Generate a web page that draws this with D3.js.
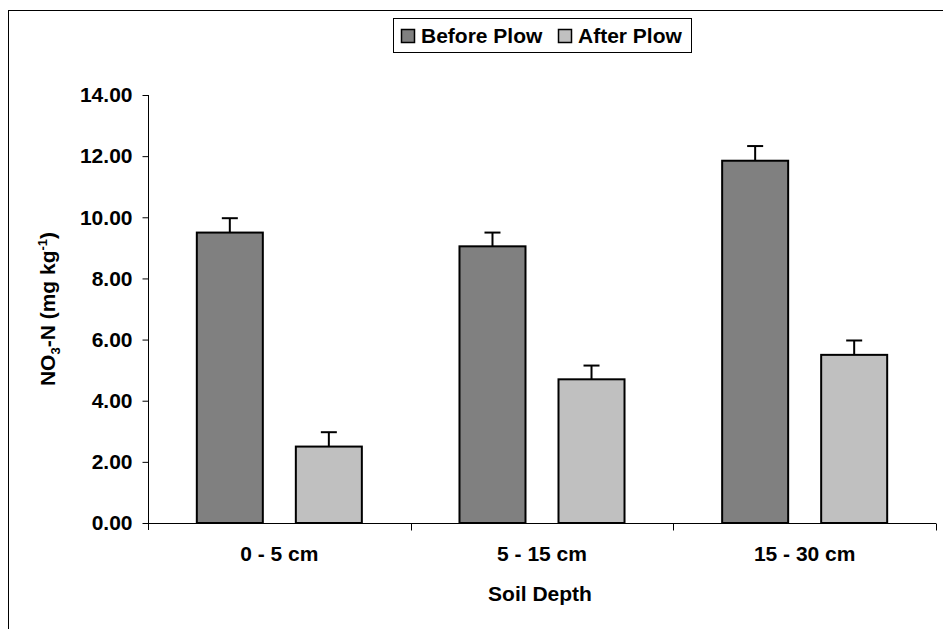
<!DOCTYPE html>
<html>
<head>
<meta charset="utf-8">
<script src="https://cdn.jsdelivr.net/npm/d3@7"></script>
<style>
  body { margin: 0; background: #fff; }
  svg { display: block; font-family: "Liberation Sans", Arial, sans-serif; font-weight: bold; }
</style>
</head>
<body>
<svg id="chart"></svg>
<script>
var categories = ["0 - 5 cm", "5 - 15 cm", "15 - 30 cm"];
var series = ["Before Plow", "After Plow"];
var beforeValues = [9.50, 9.05, 11.85];
var afterValues = [2.50, 4.70, 5.50];
var beforeErrors = [0.47, 0.45, 0.48];
var afterErrors = [0.47, 0.45, 0.47];
var yTicks = [0, 2, 4, 6, 8, 10, 12, 14];
var colors = ["#808080", "#c0c0c0"];

var width = 943, height = 629;
var svg = d3.select("#chart").attr("width", width).attr("height", height);

// outer chart frame (runs past the right / bottom edge like the picture)
svg.append("rect")
  .attr("x", 8.5).attr("y", 10.5)
  .attr("width", 1000).attr("height", 1000)
  .attr("fill", "none").attr("stroke", "#000");

var plotLeft = 148, plotRight = 936, plotTop = 95, plotBottom = 523;
var fs = 21;

var x0 = d3.scaleBand().domain(categories).range([plotLeft, plotRight]).padding(0);
var x1 = d3.scaleBand().domain(series).range([0, x0.bandwidth()])
  .paddingInner(1 / 3).paddingOuter(0.493);
var y = d3.scaleLinear().domain([0, 14]).range([plotBottom, plotTop]);

var rows = categories.map(function (c, i) {
  return [
    { cat: c, s: series[0], v: beforeValues[i], e: beforeErrors[i], c: colors[0] },
    { cat: c, s: series[1], v: afterValues[i], e: afterErrors[i], c: colors[1] }
  ];
});

// y axis
var yAxis = svg.append("g")
  .attr("transform", "translate(" + (plotLeft + 0.5) + ",0)")
  .call(d3.axisLeft(y).tickValues(yTicks).tickFormat(d3.format(".2f")).tickSize(6).tickPadding(10));
yAxis.attr("font-family", null).attr("font-size", fs);
yAxis.select(".domain").attr("d", "M0," + plotTop + "V" + (plotBottom + 7));
yAxis.selectAll("text").attr("fill", "#000");

// x axis
var xAxis = svg.append("g")
  .attr("transform", "translate(0," + (plotBottom + 0.5) + ")")
  .call(d3.axisBottom(x0).tickSize(0).tickPadding(23));
xAxis.attr("font-family", null).attr("font-size", fs);
xAxis.select(".domain").attr("d", "M" + plotLeft + ",0H" + plotRight);
xAxis.selectAll("text").attr("fill", "#000");
xAxis.selectAll(".bnd")
  .data(categories.map(function (c) { return x0(c) + x0.bandwidth(); }))
  .enter().append("line")
  .attr("x1", function (d) { return Math.round(d) + 0.5; })
  .attr("x2", function (d) { return Math.round(d) + 0.5; })
  .attr("y1", 0).attr("y2", 7)
  .attr("stroke", "#000");

// bars
var groups = svg.selectAll(".grp").data(rows).enter().append("g")
  .attr("transform", function (d) { return "translate(" + x0(d[0].cat) + ",0)"; });

groups.selectAll("rect").data(function (d) { return d; }).enter().append("rect")
  .attr("x", function (d) { return x1(d.s); })
  .attr("y", function (d) { return y(d.v); })
  .attr("width", x1.bandwidth())
  .attr("height", function (d) { return y(0) - y(d.v); })
  .attr("fill", function (d) { return d.c; })
  .attr("stroke", "#000").attr("stroke-width", 2);

// error bars (upper only)
var err = groups.selectAll(".err").data(function (d) { return d; }).enter().append("g");
err.append("line")
  .attr("x1", function (d) { return x1(d.s) + x1.bandwidth() / 2; })
  .attr("x2", function (d) { return x1(d.s) + x1.bandwidth() / 2; })
  .attr("y1", function (d) { return y(d.v); })
  .attr("y2", function (d) { return y(d.v + d.e); })
  .attr("stroke", "#000").attr("stroke-width", 2);
err.append("line")
  .attr("x1", function (d) { return x1(d.s) + x1.bandwidth() / 2 - 8; })
  .attr("x2", function (d) { return x1(d.s) + x1.bandwidth() / 2 + 8; })
  .attr("y1", function (d) { return y(d.v + d.e); })
  .attr("y2", function (d) { return y(d.v + d.e); })
  .attr("stroke", "#000").attr("stroke-width", 2);

// axis titles
svg.append("text")
  .attr("x", (plotLeft + plotRight) / 2 - 2).attr("y", 601)
  .attr("text-anchor", "middle").attr("font-size", fs)
  .text("Soil Depth");

var yt = svg.append("text")
  .attr("transform", "translate(55," + ((plotTop + plotBottom) / 2) + ") rotate(-90)")
  .attr("text-anchor", "middle").attr("font-size", fs);
yt.append("tspan").text("NO");
yt.append("tspan").attr("font-size", 13).attr("dy", 5).text("3");
yt.append("tspan").attr("dy", -5).text("-N (mg kg");
yt.append("tspan").attr("font-size", 13).attr("dy", -8).text("-1");
yt.append("tspan").attr("dy", 8).text(")");

// legend
var legend = svg.append("g");
legend.append("rect")
  .attr("x", 393.5).attr("y", 18.5).attr("width", 298).attr("height", 34)
  .attr("fill", "#fff").attr("stroke", "#000");
var legendX = [401, 558];
var items = legend.selectAll(".item").data(series).enter().append("g")
  .attr("transform", function (d, i) { return "translate(" + legendX[i] + ",0)"; });
items.append("rect")
  .attr("x", 0.5).attr("y", 29.5).attr("width", 13).attr("height", 13)
  .attr("fill", function (d, i) { return colors[i]; })
  .attr("stroke", "#000").attr("stroke-width", 1.5);
items.append("text")
  .attr("x", 20).attr("y", 43)
  .attr("font-size", fs)
  .text(function (d) { return d; });
</script>
</body>
</html>
